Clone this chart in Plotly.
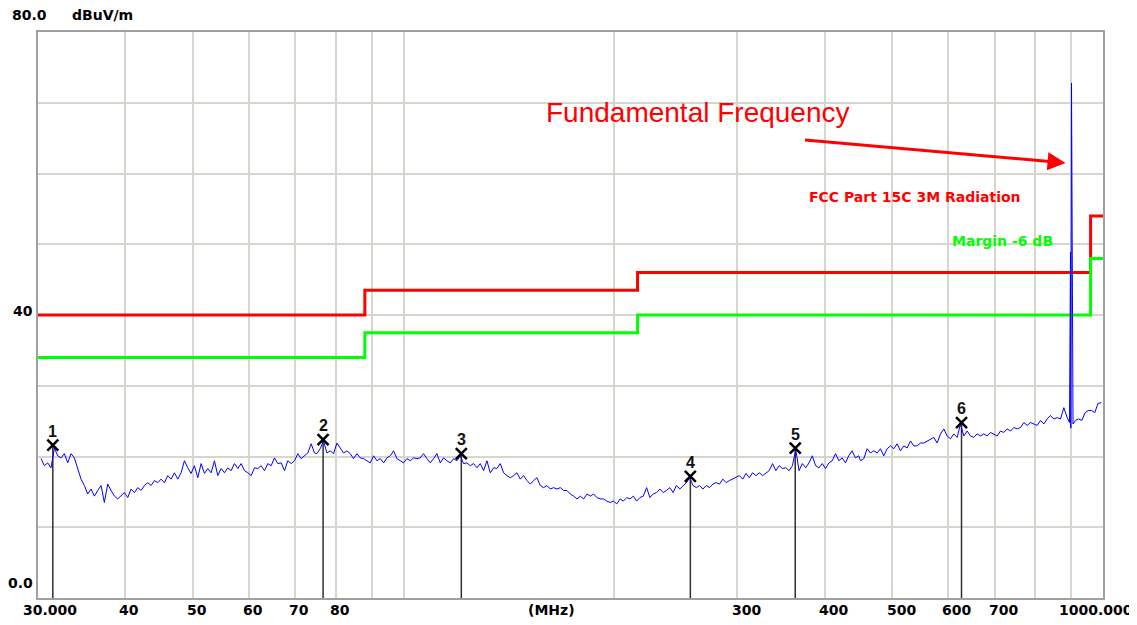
import numpy as np
import plotly.graph_objects as go

# ---------------- data ----------------
# Receiver sweep segments: (start MHz, stop MHz) and measured level in dBuV/m
seg1_range = (30.3, 74.56)
seg1_dbuv = [19.7, 18.7, 19.1, 18.4, 21.2, 20.1, 19.8,
             20.4, 19.1, 20.4, 19.8, 18.4, 16.8, 15.9, 14.7, 15.4, 14.4,
             15.2, 15.9, 13.5, 16.1, 15.2, 14.4, 14.0, 14.4, 14.9, 14.2,
             15.4, 14.9, 15.6, 15.2, 15.9, 16.3, 15.9, 16.6, 16.3, 16.8,
             16.3, 17.3, 16.8, 17.7, 16.8, 17.7, 19.4, 18.4, 17.6, 18.7,
             17.0, 19.0, 17.6, 18.3, 17.7, 19.4, 17.3, 18.3, 17.7, 18.4,
             18.0, 19.0, 18.3, 19.0, 18.0, 17.7, 17.3, 18.4, 18.3, 18.7,
             18.0, 19.0, 18.7, 19.8, 19.0, 19.1, 18.0, 19.4, 19.0, 19.4,
             20.4, 19.7, 20.1, 20.5, 21.8, 20.5]
seg2_range = (75.15, 182.85)
seg2_dbuv = [20.4, 21.1, 22.2, 20.5, 20.8, 20.4, 21.9, 21.2, 20.5, 20.8,
             20.4, 19.7, 20.4, 19.8, 19.7, 19.4, 19.1, 20.1, 19.4, 19.7,
             19.1, 19.8, 20.1, 20.8, 19.7, 19.4, 19.1, 19.7, 19.4, 19.8,
             19.7, 19.8, 20.4, 19.7, 19.1, 19.7, 20.4, 19.1, 19.8, 19.4,
             19.1, 19.7, 19.4, 20.1, 19.0, 19.1, 18.7, 19.0, 18.4, 19.0,
             18.0, 19.4, 17.7, 18.4, 18.3, 19.0, 17.7, 17.3, 17.0, 17.3,
             17.7, 16.8, 17.3, 16.6, 16.1, 16.6, 17.0, 15.9, 15.6, 15.9,
             15.4, 15.6, 15.4, 15.6, 15.2, 15.2, 14.7, 14.4, 14.0, 14.4,
             14.0, 14.7]
seg3_range = (184.85, 447.4)
seg3_dbuv = [14.4, 14.7, 14.2, 14.0, 14.0, 13.7, 13.5, 13.7, 13.3, 14.0,
             13.7, 14.2, 14.0, 14.4, 13.7, 14.2, 14.4, 15.6, 14.2, 14.7,
             14.9, 15.4, 14.9, 15.2, 15.6, 14.9, 15.9, 15.4, 15.9, 16.3,
             17.0, 15.9, 15.6, 15.9, 15.4, 15.9, 15.6, 16.1, 16.3, 16.1,
             16.8, 16.3, 16.6, 16.8, 17.0, 17.3, 16.8, 17.6, 17.0, 17.7,
             17.3, 17.7, 17.3, 17.6, 18.0, 19.0, 18.0, 18.7, 18.3, 18.4,
             18.0, 18.7, 21.0, 18.0, 19.0, 18.4, 19.1, 20.1, 18.7, 18.4,
             19.0, 18.3, 19.1, 19.4, 20.4, 19.4, 19.8, 19.1, 20.1, 20.8,
             19.8, 20.1]
seg4_range = (450.0, 888.7)
seg4_dbuv = [19.4, 19.7, 21.1, 20.5, 20.8, 20.5, 21.1, 20.1, 21.1, 21.5,
             21.1, 21.8, 20.8, 21.5, 21.2, 22.2, 21.5, 21.5, 21.9, 21.9,
             22.2, 22.5, 22.7, 21.9, 23.2, 23.9, 22.9, 22.5, 23.2, 22.7,
             24.6, 22.9, 23.6, 22.9, 22.7, 23.2, 22.9, 23.2, 22.9, 23.4,
             23.2, 22.9, 23.6, 23.4, 23.9, 23.6, 24.1, 23.9, 24.1, 24.8,
             24.4, 24.8, 24.6, 24.4, 25.1, 24.6, 25.3, 25.8, 25.3, 25.5,
             25.3, 26.9, 25.5]
seg5_range = (913.3, 994.2)
seg5_dbuv = [25.1, 25.3, 25.1, 26.2, 26.5, 26.5, 26.2, 27.5, 27.6]

# Fundamental carrier spike
spike_mhz = [895.6, 898.5, 899.5, 901.5, 903.0, 904.5, 906.0]
spike_dbuv = [24.8, 48.9, 24.0, 72.8, 60.4, 36.3, 24.6]

# Limit lines
limit_mhz = [30, 88, 216, 960, 1000]
fcc_limit_dbuv = [40, 43.5, 46, 54, 54]
margin_limit_dbuv = [34, 37.5, 40, 48, 48]

# Peak markers
marker_mhz = [31.5, 76.7, 120.9, 257.0, 363.0, 627.6]
marker_dbuv = [21.6, 22.4, 20.4, 17.2, 21.2, 24.8]
marker_ids = ["1", "2", "3", "4", "5", "6"]

# Axis grid / labels
grid_mhz = [40, 50, 60, 70, 80, 90, 100, 200, 300, 400, 500, 600, 700, 800, 900]
tick_mhz = [40, 50, 60, 70, 80, 300, 400, 500, 600, 700]
tick_labels = ["40", "50", "60", "70", "80", "300", "400", "500", "600", "700"]
y_grid = [10, 20, 30, 40, 50, 60, 70]

# ---------------- build ----------------
freqs, levels = [], []
for rng, vals in [(seg1_range, seg1_dbuv), (seg2_range, seg2_dbuv),
                  (seg3_range, seg3_dbuv), (seg4_range, seg4_dbuv)]:
    freqs += list(np.geomspace(rng[0], rng[1], len(vals)))
    levels += vals
freqs += spike_mhz
levels += spike_dbuv
freqs += list(np.geomspace(seg5_range[0], seg5_range[1], len(seg5_dbuv)))
levels += seg5_dbuv

RED = "#ff0000"
GREEN = "#00ff00"
BLUE = "#0000ff"
GRID = "#d8d5ce"
AXISFONT = dict(family="DejaVu Sans", size=14, color="black", weight="bold")

fig = go.Figure()

fig.add_trace(go.Scatter(x=limit_mhz, y=fcc_limit_dbuv, mode="lines",
                         line=dict(color=RED, width=3, shape="hv"),
                         hoverinfo="skip", showlegend=False))
fig.add_trace(go.Scatter(x=limit_mhz, y=margin_limit_dbuv, mode="lines",
                         line=dict(color=GREEN, width=3, shape="hv"),
                         hoverinfo="skip", showlegend=False))

stem_x, stem_y = [], []
for f, v in zip(marker_mhz, marker_dbuv):
    stem_x += [f, f, None]
    stem_y += [0, v, None]
fig.add_trace(go.Scatter(x=stem_x, y=stem_y, mode="lines",
                         line=dict(color="#303030", width=1.5),
                         hoverinfo="skip", showlegend=False))

fig.add_trace(go.Scatter(x=freqs, y=levels, mode="lines",
                         line=dict(color=BLUE, width=1),
                         showlegend=False))

fig.add_trace(go.Scatter(x=marker_mhz, y=marker_dbuv, mode="markers",
                         marker=dict(symbol="x-thin", size=11,
                                     line=dict(color="black", width=2.5)),
                         showlegend=False, cliponaxis=False))

annotations = []
for f, v, t in zip(marker_mhz, marker_dbuv, marker_ids):
    annotations.append(dict(x=np.log10(f), xref="x", y=v, yref="y", text=t,
                            showarrow=False, yshift=14, xanchor="center",
                            yanchor="middle",
                            font=dict(family="Liberation Sans", size=16,
                                      color="#111", weight="bold")))
for v, t in zip(tick_mhz, tick_labels):
    annotations.append(dict(x=np.log10(v), xref="x", y=-0.0212, yref="paper",
                            text=t, showarrow=False, font=AXISFONT,
                            xanchor="center", yanchor="middle",
                            xshift=4 if v < 100 else 9))
annotations += [
    dict(x=np.log10(30), xref="x", y=-0.0212, yref="paper", text="30.000",
         showarrow=False, font=AXISFONT, xanchor="center", yanchor="middle", xshift=12),
    dict(x=np.log10(1000), xref="x", y=-0.0212, yref="paper", text="1000.000",
         showarrow=False, font=AXISFONT, xanchor="center", yanchor="middle", xshift=-7),
    dict(x=0.4826, xref="paper", y=-0.0212, yref="paper", text="(MHz)",
         showarrow=False, font=AXISFONT, xanchor="center", yanchor="middle"),
    dict(x=-0.0263, xref="paper", y=1.030, yref="paper", text="80.0",
         showarrow=False, font=AXISFONT, xanchor="left", yanchor="middle"),
    dict(x=0.030, xref="paper", y=1.030, yref="paper", text="dBuV/m",
         showarrow=False, font=AXISFONT, xanchor="left", yanchor="middle"),
    dict(x=-0.0028, xref="paper", y=40, yref="y", text="40", yshift=4,
         showarrow=False, font=AXISFONT, xanchor="right", yanchor="middle"),
    dict(x=-0.0028, xref="paper", y=0, yref="y", text="0.0", yshift=15,
         showarrow=False, font=AXISFONT, xanchor="right", yanchor="middle"),
    dict(x=0.6197, xref="paper", y=0.857, yref="paper", text="Fundamental Frequency",
         showarrow=False, font=dict(family="Liberation Sans", size=28, color=RED),
         xanchor="center", yanchor="middle"),
    dict(x=np.log10(884), xref="x", y=61.5, yref="y", text="", ax=-262, ay=-23,
         showarrow=True, arrowhead=2, arrowsize=1.2, arrowwidth=3, arrowcolor=RED),
    dict(x=0.8235, xref="paper", y=0.7085, yref="paper", text="FCC Part 15C 3M Radiation",
         showarrow=False, font=dict(family="DejaVu Sans", size=14, color=RED, weight="bold"),
         xanchor="center", yanchor="middle"),
    dict(x=0.9061, xref="paper", y=0.6307, yref="paper", text="Margin -6 dB",
         showarrow=False, font=dict(family="DejaVu Sans", size=14, color=GREEN, weight="bold"),
         xanchor="center", yanchor="middle"),
]

# the page body has an 8 px margin, so the figure is sized to fit the window
fig.update_layout(
    width=1129, height=617,
    margin=dict(l=30, r=34, t=24, b=27),
    paper_bgcolor="white", plot_bgcolor="white",
    xaxis=dict(type="log", range=[np.log10(30), np.log10(1000)],
               tickvals=grid_mhz, showticklabels=False, ticks="",
               showgrid=True, gridcolor=GRID, gridwidth=1.5,
               showline=True, mirror=True, linecolor="#a0a0a0", linewidth=2,
               zeroline=False, fixedrange=True),
    yaxis=dict(range=[0, 80], tickvals=y_grid, showticklabels=False, ticks="",
               showgrid=True, gridcolor=GRID, gridwidth=1.5,
               showline=True, mirror=True, linecolor="#a0a0a0", linewidth=2,
               zeroline=False, fixedrange=True),
    annotations=annotations,
    hovermode=False,
)

fig.write_html("out.html")
